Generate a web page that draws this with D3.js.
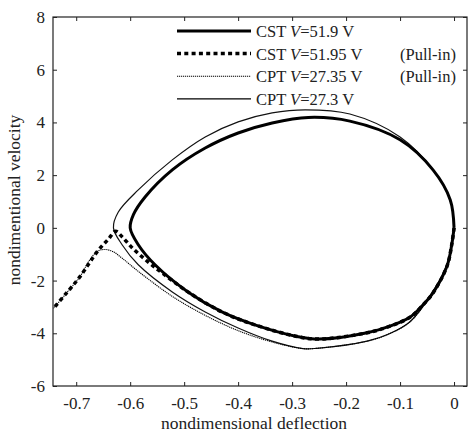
<!DOCTYPE html>
<html>
<head>
<meta charset="utf-8">
<script src="https://cdn.jsdelivr.net/npm/d3@7"></script>
<style>
  body { margin: 0; background: #fff; }
  svg text { font-family: "Liberation Serif", "Times New Roman", serif; fill: #222; }
</style>
</head>
<body>
<svg width="469" height="433"></svg>
<script>
// phase portrait data, [deflection, velocity]
var cstStable = [[0,0],[-0.004,-0.6],[-0.013,-1.45],[-0.039,-2.47],[-0.06,-2.98],[-0.081,-3.38],[-0.12,-3.74],
  [-0.161,-3.98],[-0.25,-4.22],[-0.289,-4.13],[-0.369,-3.68],[-0.43,-3.19],[-0.493,-2.43],[-0.554,-1.4],
  [-0.585,-0.64],[-0.6,0],[-0.594,0.5],[-0.572,1.18],[-0.522,2.2],[-0.461,3.03],[-0.4,3.6],[-0.337,3.98],
  [-0.27,4.19],[-0.193,4.05],[-0.1,3.34],[-0.039,2.2],[-0.007,1.06],[0,0]];
var cstPullin = [[0,0],[-0.004,-0.6],[-0.013,-1.45],[-0.039,-2.47],[-0.06,-2.98],[-0.081,-3.38],[-0.12,-3.74],
  [-0.161,-3.98],[-0.25,-4.22],[-0.289,-4.13],[-0.369,-3.68],[-0.43,-3.19],[-0.493,-2.43],[-0.54,-1.72],
  [-0.567,-1.29],[-0.596,-0.76],[-0.615,-0.34],[-0.627,-0.13],[-0.64,-0.42],[-0.661,-0.9],[-0.693,-1.85],
  [-0.717,-2.45],[-0.742,-3.05]];
var cptPullin = [[0,0],[-0.004,-0.6],[-0.014,-1.45],[-0.045,-2.6],[-0.081,-3.55],[-0.12,-4.02],[-0.161,-4.3],
  [-0.254,-4.57],[-0.28,-4.58],[-0.337,-4.33],[-0.4,-3.9],[-0.461,-3.32],[-0.522,-2.6],[-0.585,-1.65],
  [-0.615,-1.15],[-0.632,-0.9],[-0.646,-0.82],[-0.66,-0.88],[-0.676,-1.25],[-0.693,-1.85],[-0.717,-2.45],
  [-0.742,-3.05]];
var cptStable = [[0,0],[-0.004,-0.6],[-0.014,-1.45],[-0.045,-2.6],[-0.081,-3.55],[-0.12,-4.02],[-0.161,-4.3],
  [-0.254,-4.57],[-0.28,-4.58],[-0.337,-4.3],[-0.4,-3.8],[-0.461,-3.19],[-0.522,-2.43],[-0.585,-1.4],
  [-0.615,-0.64],[-0.631,0],[-0.622,0.6],[-0.585,1.44],[-0.522,2.58],[-0.461,3.45],[-0.4,4.02],[-0.337,4.36],
  [-0.276,4.48],[-0.193,4.32],[-0.1,3.45],[-0.039,2.2],[-0.007,1.06],[0,0]];

var xTicks = [-0.7,-0.6,-0.5,-0.4,-0.3,-0.2,-0.1,0];
var yTicks = [-6,-4,-2,0,2,4,6,8];

var legendRows = [
  {name: "CST", v: "=51.9 V", note: "", width: 3, dash: null},
  {name: "CST", v: "=51.95 V", note: "(Pull-in)", width: 3.5, dash: "4,3.3"},
  {name: "CPT", v: "=27.35 V", note: "(Pull-in)", width: 1.1, dash: "1.2,0.8"},
  {name: "CPT", v: "=27.3 V", note: "", width: 1.2, dash: null}
];

var svg = d3.select("svg");
var mLeft = 53, mRight = 467, mTop = 17, mBottom = 386;
var serif = "Liberation Serif";

var x = d3.scaleLinear().domain([-0.743, 0.024]).range([mLeft, mRight]);
var y = d3.scaleLinear().domain([-6, 8]).range([mBottom, mTop]);

// box + inward ticks on all sides
svg.append("rect").attr("x", mLeft).attr("y", mTop)
  .attr("width", mRight - mLeft).attr("height", mBottom - mTop)
  .attr("fill", "none").attr("stroke", "#222").attr("stroke-width", 1.2);

var tickLen = 4;
var gx = svg.append("g").attr("transform", "translate(0," + mBottom + ")")
  .call(d3.axisBottom(x).tickValues(xTicks).tickSize(-tickLen).tickPadding(11)
    .tickFormat(function(d) { return d === 0 ? "0" : d3.format(".1f")(d).replace("\u2212", "-"); }));
var gxt = svg.append("g").attr("transform", "translate(0," + mTop + ")")
  .call(d3.axisTop(x).tickValues(xTicks).tickSize(-tickLen).tickFormat(""));
var gy = svg.append("g").attr("transform", "translate(" + mLeft + ",0)")
  .call(d3.axisLeft(y).tickValues(yTicks).tickSize(-tickLen).tickPadding(8)
    .tickFormat(function(d) { return String(d); }));
var gyr = svg.append("g").attr("transform", "translate(" + mRight + ",0)")
  .call(d3.axisRight(y).tickValues(yTicks).tickSize(-tickLen).tickFormat(""));

[gx, gxt, gy, gyr].forEach(function(g) {
  g.attr("font-family", serif).attr("font-size", 17);
  g.select(".domain").remove();
  g.selectAll("line").attr("stroke", "#222");
  g.selectAll("text").style("font-family", serif).style("font-size", "17px").attr("fill", "#333");
});

svg.append("text").attr("x", 254).attr("y", 429).attr("text-anchor", "middle")
  .style("font-family", serif).style("font-size", "17.5px").text("nondimensional deflection");
svg.append("text").attr("transform", "translate(20,200) rotate(-90)").attr("text-anchor", "middle")
  .style("font-family", serif).style("font-size", "17.5px").text("nondimentional velocity");

// curves
var line = d3.line()
  .x(function(d) { return x(d[0]); })
  .y(function(d) { return y(d[1]); })
  .curve(d3.curveCatmullRom.alpha(0.5));

svg.append("path").attr("d", line(cptStable)).attr("fill", "none")
  .attr("stroke", "#111").attr("stroke-width", 1.2);
svg.append("path").attr("d", line(cptPullin)).attr("fill", "none")
  .attr("stroke", "#000").attr("stroke-width", 1.1).attr("stroke-dasharray", "1.2,0.8");
svg.append("path").attr("d", line(cstStable)).attr("fill", "none")
  .attr("stroke", "#000").attr("stroke-width", 3);
svg.append("path").attr("d", line(cstPullin)).attr("fill", "none")
  .attr("stroke", "#000").attr("stroke-width", 3.5).attr("stroke-dasharray", "4,3.3");

// legend
var leg = svg.append("g");
legendRows.forEach(function(r, i) {
  var ly = 31 + i * 22.6;
  leg.append("line").attr("x1", 177).attr("x2", 251).attr("y1", ly).attr("y2", ly)
    .attr("stroke", "#000").attr("stroke-width", r.width)
    .attr("stroke-dasharray", r.dash);
  var t = leg.append("text").attr("x", 256).attr("y", ly + 6)
    .style("font-family", serif).style("font-size", "16.5px");
  t.append("tspan").text(r.name + " ");
  t.append("tspan").style("font-style", "italic").text("V");
  t.append("tspan").text(r.v);
  if (r.note) {
    leg.append("text").attr("x", 400).attr("y", ly + 6)
      .style("font-family", serif).style("font-size", "16.5px").text(r.note);
  }
});
</script>
</body>
</html>
